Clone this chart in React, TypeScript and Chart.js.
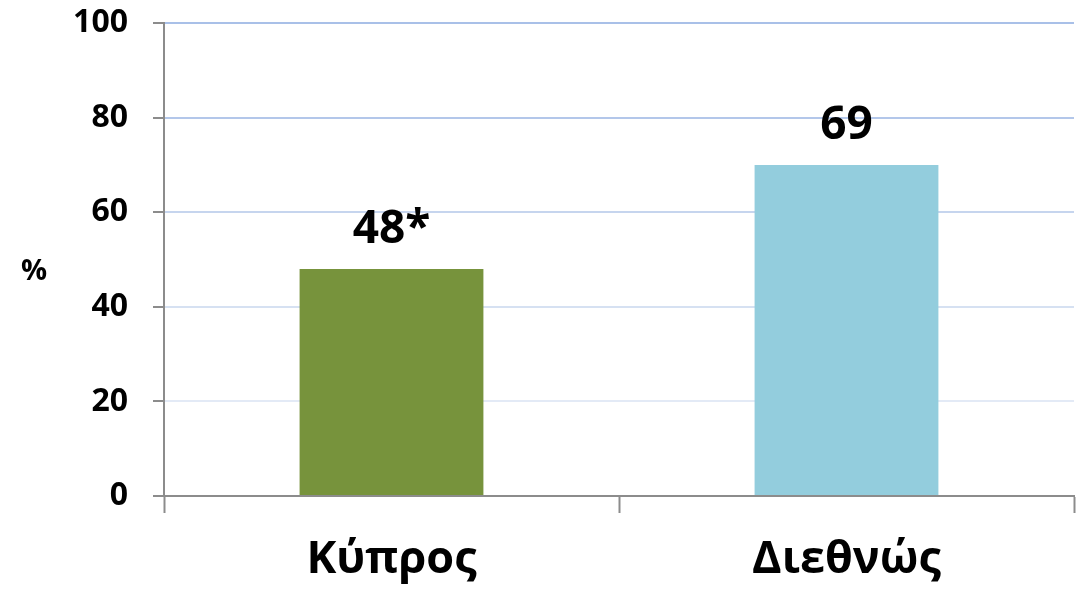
import React, { useEffect, useRef } from "react";
import { Chart, registerables } from "chart.js";

Chart.register(...registerables);

const categories = ["Κύπρος", "Διεθνώς"];
const values = [48, 70];
const valueLabels = ["48*", "69"];
const barColors = ["#77933C", "#93CDDD"];
const yTicks = [0, 20, 40, 60, 80, 100];
const yUnit = "%";

const FONT = "'Open Sans', 'Noto Sans', sans-serif";

const gridColorFor = (v: number) => {
  if (v === 0) return "#8C8C8C";
  if (v >= 100) return "#A9C0E8";
  if (v >= 80) return "#B3C7EA";
  if (v >= 60) return "#C6D5EE";
  if (v >= 40) return "#D6E1F2";
  return "#E3EAF6";
};

const extrasPlugin = {
  id: "extras",
  afterDatasetsDraw(chart: any) {
    const ctx = chart.ctx;
    const meta = chart.getDatasetMeta(0);
    ctx.save();
    ctx.fillStyle = "#000";
    ctx.textAlign = "center";
    ctx.textBaseline = "alphabetic";
    ctx.font = `bold 46px ${FONT}`;
    meta.data.forEach((bar: any, i: number) => {
      ctx.fillText(valueLabels[i], bar.x, bar.y - 26);
    });
    ctx.font = `bold 29px ${FONT}`;
    const area = chart.chartArea;
    ctx.fillText(yUnit, 34, (area.top + area.bottom) / 2 + 20);
    ctx.restore();
  },
};

export default function App() {
  const ref = useRef<HTMLCanvasElement | null>(null);
  useEffect(() => {
    if (!ref.current) return;
    const chart = new Chart(ref.current, {
      type: "bar",
      data: {
        labels: categories,
        datasets: [
          {
            data: values,
            backgroundColor: barColors,
            categoryPercentage: 1,
            barPercentage: 0.404,
          },
        ],
      },
      options: {
        animation: false,
        responsive: false,
        maintainAspectRatio: false,
        layout: { padding: { left: 0, right: 14, top: 23, bottom: 0 } },
        plugins: { legend: { display: false }, tooltip: { enabled: false } },
        scales: {
          x: {
            afterFit: (s: any) => {
              s.height = 96;
              s.paddingLeft = 0;
              s.paddingRight = 0;
            },
            grid: {
              offset: true,
              drawOnChartArea: false,
              drawTicks: true,
              tickLength: 17,
              tickColor: "#8C8C8C",
              tickWidth: 2,
            },
            border: { color: "#8C8C8C", width: 2 },
            ticks: {
              color: "#000",
              font: { family: FONT, size: 45, weight: "bold" },
              padding: 20,
              maxRotation: 0,
            },
          },
          y: {
            min: 0,
            max: 100,
            afterFit: (s: any) => {
              s.width = 164;
              s.paddingTop = 0;
              s.paddingBottom = 0;
            },
            afterBuildTicks: (s: any) => {
              s.ticks = yTicks.map((v) => ({ value: v }));
            },
            grid: {
              color: (c: any) => gridColorFor(c.tick ? c.tick.value : 0),
              lineWidth: 2,
              tickLength: 11,
              tickColor: "#8C8C8C",
              tickWidth: 2,
            },
            border: { color: "#8C8C8C", width: 2 },
            ticks: {
              color: "#000",
              font: { family: FONT, size: 32, weight: "bold" },
              padding: 25,
            },
          },
        },
      },
      plugins: [extrasPlugin],
    } as any);
    return () => chart.destroy();
  }, []);
  return (
    <div style={{ position: "fixed", left: 0, top: 0, width: 1088, height: 592, background: "#fff" }}>
      <canvas ref={ref} width={1088} height={592} style={{ display: "block" }} />
    </div>
  );
}
